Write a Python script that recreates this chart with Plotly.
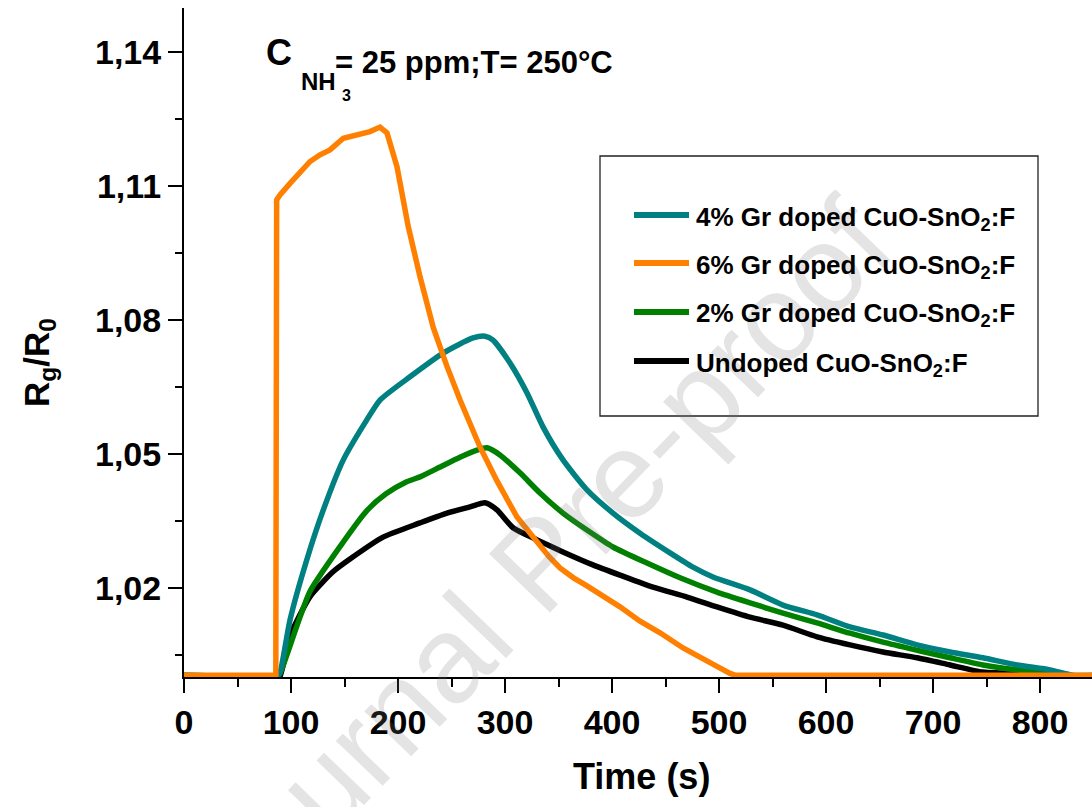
import plotly.graph_objects as go

# ---- measured response curves: time (s) and normalized resistance Rg/R0 ----
t_6 = [0, 85.8, 86.6, 89.7, 99.1, 108.4, 117.8, 127.1, 136.4, 148.9, 161.4, 173.8,
       183.2, 189.7, 199.1, 204.9, 209.6, 220.6, 233.0, 245.5, 258.0, 276.6, 292.5,
       311.2, 330.8, 341.0, 351.4, 364.0, 376.6, 388.8, 407.5, 426.2, 444.9, 466.4,
       482.2, 497.2, 510.3, 515.0, 850]
r_6 = [1.0004, 1.0004, 1.1068, 1.1079, 1.1105, 1.1131, 1.1154, 1.1169, 1.1180, 1.1206,
       1.1215, 1.1221, 1.1231, 1.1218, 1.1142, 1.1075, 1.1008, 1.0896, 1.0782, 1.0697,
       1.0620, 1.0515, 1.0439, 1.0358, 1.0300, 1.0270, 1.0244, 1.0222, 1.0204, 1.0186,
       1.0157, 1.0125, 1.0099, 1.0065, 1.0043, 1.0025, 1.0008, 1.0004, 1.0004]

t_4 = [0, 87.9, 89.7, 99.1, 114.7, 130.2, 148.9, 170.7, 183.2, 211.2, 242.1, 270.1,
       281.3, 288.8, 304.7, 320.6, 335.5, 354.2, 376.6, 400.9, 426.2, 454.2, 475.7,
       494.4, 529.0, 559.8, 591.6, 622.4, 653.3, 685.0, 715.9, 746.7, 778.5, 809.3,
       830.8, 850]
r_4 = [1.0004, 1.0004, 1.0009, 1.0128, 1.0262, 1.0374, 1.0486, 1.0575, 1.0620, 1.0672,
       1.0725, 1.0759, 1.0763, 1.0754, 1.0703, 1.0636, 1.0560, 1.0486, 1.0419, 1.0367,
       1.0322, 1.0278, 1.0246, 1.0224, 1.0195, 1.0161, 1.0139, 1.0112, 1.0094, 1.0072,
       1.0056, 1.0043, 1.0027, 1.0016, 1.0004, 1.0004]

t_2 = [0, 87.9, 89.7, 105.3, 117.8, 145.8, 170.7, 188.8, 208.1, 220.6, 239.3, 257.9,
       273.8, 283.2, 295.3, 314.0, 332.7, 354.2, 376.6, 400.9, 432.7, 463.6, 498.1,
       529.0, 559.8, 591.6, 622.4, 653.3, 685.0, 715.9, 746.7, 778.5, 809.3, 830.8, 850]
r_2 = [1.0004, 1.0004, 1.0008, 1.0113, 1.0192, 1.0292, 1.0372, 1.0410, 1.0437, 1.0448,
       1.0470, 1.0492, 1.0508, 1.0513, 1.0497, 1.0457, 1.0412, 1.0367, 1.0329, 1.0291,
       1.0255, 1.0222, 1.0190, 1.0166, 1.0143, 1.0121, 1.0098, 1.0078, 1.0060, 1.0043,
       1.0027, 1.0016, 1.0009, 1.0003, 1.0002]

t_0 = [87.9, 89.7, 99.1, 117.8, 139.5, 155.1, 186.0, 220.6, 245.8, 267.3, 281.3, 292.5,
       307.5, 330.0, 354.2, 382.2, 407.5, 438.3, 470.1, 498.1, 529.0, 559.8, 591.6,
       622.4, 653.3, 685.0, 715.9, 746.7, 781.3]
r_0 = [1.0000, 1.0001, 1.0092, 1.0180, 1.0236, 1.0264, 1.0313, 1.0345, 1.0367, 1.0381,
       1.0390, 1.0374, 1.0334, 1.0307, 1.0280, 1.0251, 1.0228, 1.0201, 1.0179, 1.0157,
       1.0134, 1.0116, 1.0090, 1.0072, 1.0056, 1.0043, 1.0027, 1.0011, 1.0008]

names = ["4% Gr doped CuO-SnO<sub>2</sub>:F",
         "6% Gr doped CuO-SnO<sub>2</sub>:F",
         "2% Gr doped CuO-SnO<sub>2</sub>:F",
         "Undoped CuO-SnO<sub>2</sub>:F"]
colors = ["#008080", "#FF8000", "#008000", "#000000"]
series = [(t_4, r_4), (t_6, r_6), (t_2, r_2), (t_0, r_0)]
# the 6% curve has a step at gas inlet, so it is drawn point to point
shapes_of = ["spline", "linear", "spline", "spline"]

x_ticks = [0, 100, 200, 300, 400, 500, 600, 700, 800]
y_ticks = [1.02, 1.05, 1.08, 1.11, 1.14]

W, H = 1092, 807
ML, MR, MT, MB = 184, 0, 8, 130
PW, PH = W - ML - MR, H - MT - MB

FONT = "Liberation Sans, Arial, sans-serif"


def fx(px):
    return (px - ML) / PW


def fy(py):
    return (H - MB - py) / PH


fig = go.Figure()

# draw order: black under green under teal, orange on top
for idx in [3, 2, 0, 1]:
    t, r = series[idx]
    line = dict(color=colors[idx], width=5.5, shape=shapes_of[idx])
    if shapes_of[idx] == "spline":
        line["smoothing"] = 0.6
    fig.add_trace(go.Scatter(x=t, y=r, mode="lines", name=names[idx],
                             line=line, showlegend=False))

annotations = []
shapes = []

# watermark
annotations.append(dict(text="Journal Pre-proof", xref="paper", yref="paper",
                        x=fx(538), y=fy(563), xanchor="center", yanchor="middle",
                        showarrow=False, textangle=-46,
                        font=dict(family=FONT, size=123, color="rgba(120,120,120,0.2)")))

# concentration / temperature label
annotations += [
    dict(text="C", x=fx(264), y=fy(52.5), font=dict(size=36)),
    dict(text="NH", x=fx(299), y=fy(81.5), font=dict(size=24)),
    dict(text="3", x=fx(340), y=fy(95), font=dict(size=16)),
    dict(text="= 25 ppm;T= 250°C", x=fx(333), y=fy(62), font=dict(size=31)),
]
for a in annotations[-4:]:
    a.update(xref="paper", yref="paper", xanchor="left", yanchor="middle",
             showarrow=False)
    a["font"].update(family=FONT, color="black", weight="bold")

# axis titles
annotations.append(dict(text="R<sub>g</sub>/R<sub>0</sub>", xref="paper", yref="paper",
                        x=fx(39), y=fy(363), xanchor="center", yanchor="middle",
                        textangle=-90, showarrow=False,
                        font=dict(family=FONT, size=35, color="black", weight="bold")))
annotations.append(dict(text="Time (s)", xref="paper", yref="paper",
                        x=fx(641), y=fy(776), xanchor="center", yanchor="middle",
                        showarrow=False,
                        font=dict(family=FONT, size=36, color="black", weight="bold")))

# legend box
shapes.append(dict(type="rect", xref="paper", yref="paper",
                   x0=fx(600), x1=fx(1038), y0=fy(416), y1=fy(156),
                   line=dict(color="#222222", width=1.3), fillcolor="rgba(0,0,0,0)"))
legend_rows = [215, 263, 312, 361]
for name, col, yc in zip(names, colors, legend_rows):
    shapes.append(dict(type="line", xref="paper", yref="paper",
                       x0=fx(634), x1=fx(689), y0=fy(yc), y1=fy(yc),
                       line=dict(color=col, width=6)))
    annotations.append(dict(text=name, xref="paper", yref="paper",
                            x=fx(694), y=fy(yc + 3), xanchor="left", yanchor="middle",
                            showarrow=False,
                            font=dict(family=FONT, size=26, color="black", weight="bold")))

tickfont = dict(family=FONT, size=34, color="black", weight="bold")

fig.update_layout(
    width=W, height=H,
    margin=dict(l=ML, r=MR, t=MT, b=MB, pad=0),
    paper_bgcolor="white", plot_bgcolor="white",
    separators=",.",
    annotations=annotations,
    shapes=shapes,
    xaxis=dict(range=[0, PW / 1.07], tickvals=x_ticks, ticktext=[str(v) for v in x_ticks],
               ticks="outside", ticklen=14, tickwidth=2, tickcolor="black",
               showline=True, linecolor="black", linewidth=2,
               showgrid=False, zeroline=False, tickfont=tickfont,
               minor=dict(tickvals=[50, 150, 250, 350, 450, 550, 650, 750],
                          ticks="outside", ticklen=8, tickwidth=2, tickcolor="black",
                          showgrid=False)),
    yaxis=dict(range=[1.0, 1.0 + PH / 4467], tickvals=y_ticks, tickformat=".2f",
               ticks="outside", ticklen=14, tickwidth=2, tickcolor="black",
               showline=True, linecolor="black", linewidth=2,
               showgrid=False, zeroline=False, tickfont=tickfont,
               minor=dict(tickvals=[1.005, 1.035, 1.065, 1.095, 1.125],
                          ticks="outside", ticklen=7, tickwidth=2, tickcolor="black",
                          showgrid=False)),
)

fig.write_html("out.html")
